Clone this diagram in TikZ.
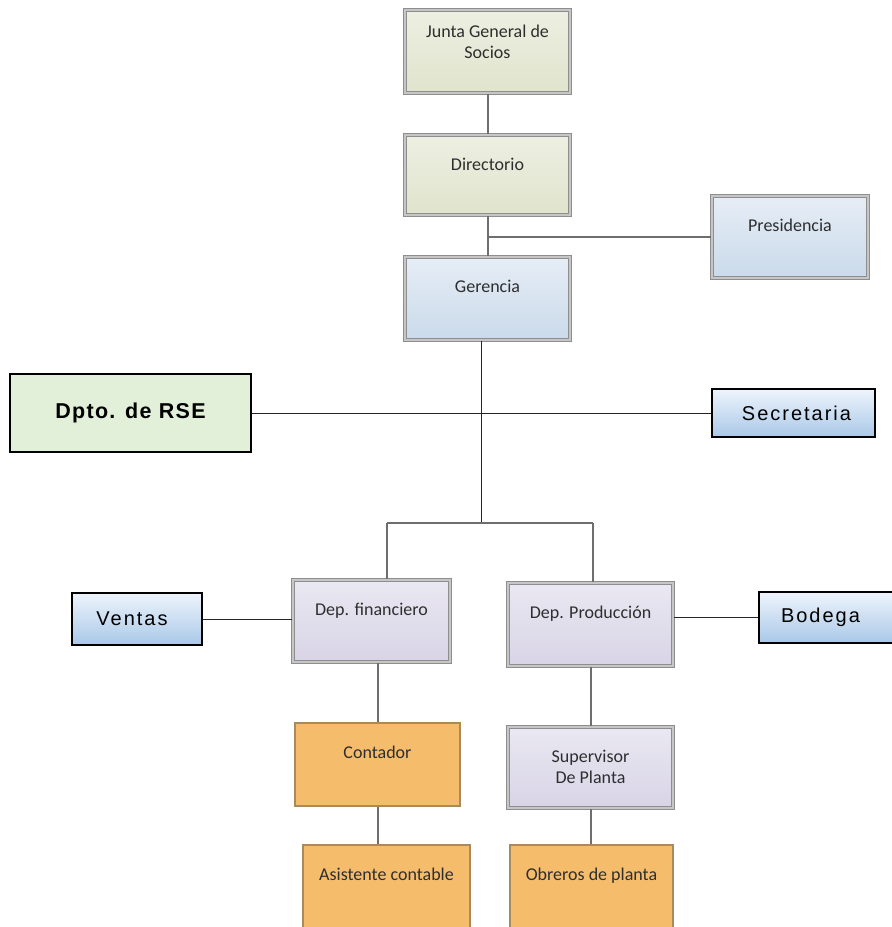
\documentclass[tikz,border=0pt]{standalone}
\usepackage{fontspec}
\setmainfont{Carlito}
\newfontfamily\arialsp[LetterSpace=10]{Liberation Sans}
\newfontfamily\arialbd[LetterSpace=6]{Liberation Sans}
\definecolor{greyframe}{HTML}{8E8E8E}
\definecolor{greyin}{HTML}{C6C6C6}
\definecolor{gbTop}{HTML}{EDEFE2}
\definecolor{gbBot}{HTML}{E0E4CC}
\definecolor{blTop}{HTML}{E6EDF6}
\definecolor{blBot}{HTML}{CADAEA}
\definecolor{lvTop}{HTML}{EAE8F2}
\definecolor{lvBot}{HTML}{D8D4E6}
\definecolor{orFill}{HTML}{F5BD6B}
\definecolor{orLine}{HTML}{A88A5C}
\definecolor{skTop}{HTML}{EEF4FC}
\definecolor{skBot}{HTML}{A9C8E8}
\definecolor{rseFill}{HTML}{E2EFD9}
\definecolor{txt}{HTML}{2E2E2E}
\definecolor{conn}{HTML}{6E6E6E}
\tikzset{
  frame/.style={draw=greyframe, line width=1.2pt, double=greyin, double distance=1.8pt},
  gbox/.style={frame, top color=gbTop, bottom color=gbBot},
  bbox/.style={frame, top color=blTop, bottom color=blBot},
  lbox/.style={frame, top color=lvTop, bottom color=lvBot},
  obox/.style={draw=orLine, line width=1.2pt, fill=orFill},
  sbox/.style={draw=black, line width=1.8pt, top color=skTop, bottom color=skBot},
  toptext/.style={anchor=north, align=center, font=\fontsize{18}{21.5}\selectfont, text=txt, yshift=-20pt},
  sktext/.style={font=\arialsp\fontsize{20}{24}\selectfont},
  gline/.style={draw=conn, line width=2pt},
  kline/.style={draw=black!85, line width=1pt}
}
\begin{document}
\begin{tikzpicture}[x=1pt,y=-1pt]
\useasboundingbox (0,0) rectangle (892,927);
% top chain
\node[gbox, minimum width=165pt, minimum height=83pt,
  label={[toptext, yshift=8pt]north:Junta General de\\Socios}] (jgs) at (487.5,51.5) {};
\node[gbox, minimum width=165pt, minimum height=80pt,
  label={[toptext]north:Directorio}] (dir) at (487.5,175) {};
\node[bbox, minimum width=156pt, minimum height=82pt,
  label={[toptext]north:Presidencia}] (pres) at (790,237) {};
\node[bbox, minimum width=165pt, minimum height=83pt,
  label={[toptext]north:Gerencia}] (ger) at (487.5,298.5) {};
% staff
\node[draw=black, line width=2pt, fill=rseFill, minimum width=241pt, minimum height=78pt,
  font=\arialbd\bfseries\fontsize{21.5}{24}\selectfont] (rse) at (130.5,413) {Dpto. de RSE};
\node[sbox, minimum width=163pt, minimum height=48pt, sktext] (sec) at (793.5,413) {\hspace*{6pt}Secretaria};
% departments
\node[lbox, minimum width=157pt, minimum height=82pt,
  label={[toptext]north:Dep. financiero}] (depf) at (371.5,621) {};
\node[lbox, minimum width=165pt, minimum height=83pt,
  label={[toptext]north:Dep. Producción}] (depp) at (590.5,624.5) {};
\node[sbox, minimum width=130pt, minimum height=52pt, sktext] (ven) at (137,619) {Ventas\hspace*{10pt}};
\node[sbox, minimum width=142pt, minimum height=51pt, sktext,
  text width=124pt, align=left] (bod) at (830,617.5) {\hspace*{13pt}Bodega};
% lower
\node[obox, minimum width=165pt, minimum height=83pt,
  label={[toptext]north:Contador}] (cont) at (377.5,764.5) {};
\node[lbox, minimum width=165pt, minimum height=81pt,
  label={[toptext]north:Supervisor\\De Planta}] (sup) at (590.5,767.5) {};
\node[obox, minimum width=167pt, minimum height=86pt,
  label={[toptext]north:Asistente contable}] (asis) at (386.5,888) {};
\node[obox, minimum width=163pt, minimum height=86pt,
  label={[toptext]north:Obreros de planta}] (obr) at (591.5,888) {};
% helper coordinates
\coordinate (hub) at (481,413);
\coordinate (barm) at (481,523);
\coordinate (barl) at (387,523);
\coordinate (barr) at (593,523);
% connectors
\draw[gline] (jgs.south) -- (dir.north);
\draw[gline] (dir.south) -- (ger.north);
\draw[gline] (dir.south |- pres.west) -- (pres.west);
\draw[kline] (ger.south -| barm) -- (barm);
\draw[kline] (rse.east) -- (rse.east -| hub);
\draw[kline] (hub) -- (sec.west);
\draw[gline, line width=2.5pt] (barl) -- (barr);
\draw[gline] (barl) -- (depf.north -| barl);
\draw[gline] (barr) -- (depp.north -| barr);
\draw[kline] (ven.east) -- (depf.west |- ven.east);
\draw[kline] (depp.east |- bod.west) -- (bod.west);
\draw[gline] (cont.north |- depf.south) -- (cont.north);
\draw[gline] (cont.south) -- (cont.south |- asis.north);
\draw[gline] (sup.north |- depp.south) -- (sup.north);
\draw[gline] (sup.south) -- (sup.south |- obr.north);
\end{tikzpicture}
\end{document}
